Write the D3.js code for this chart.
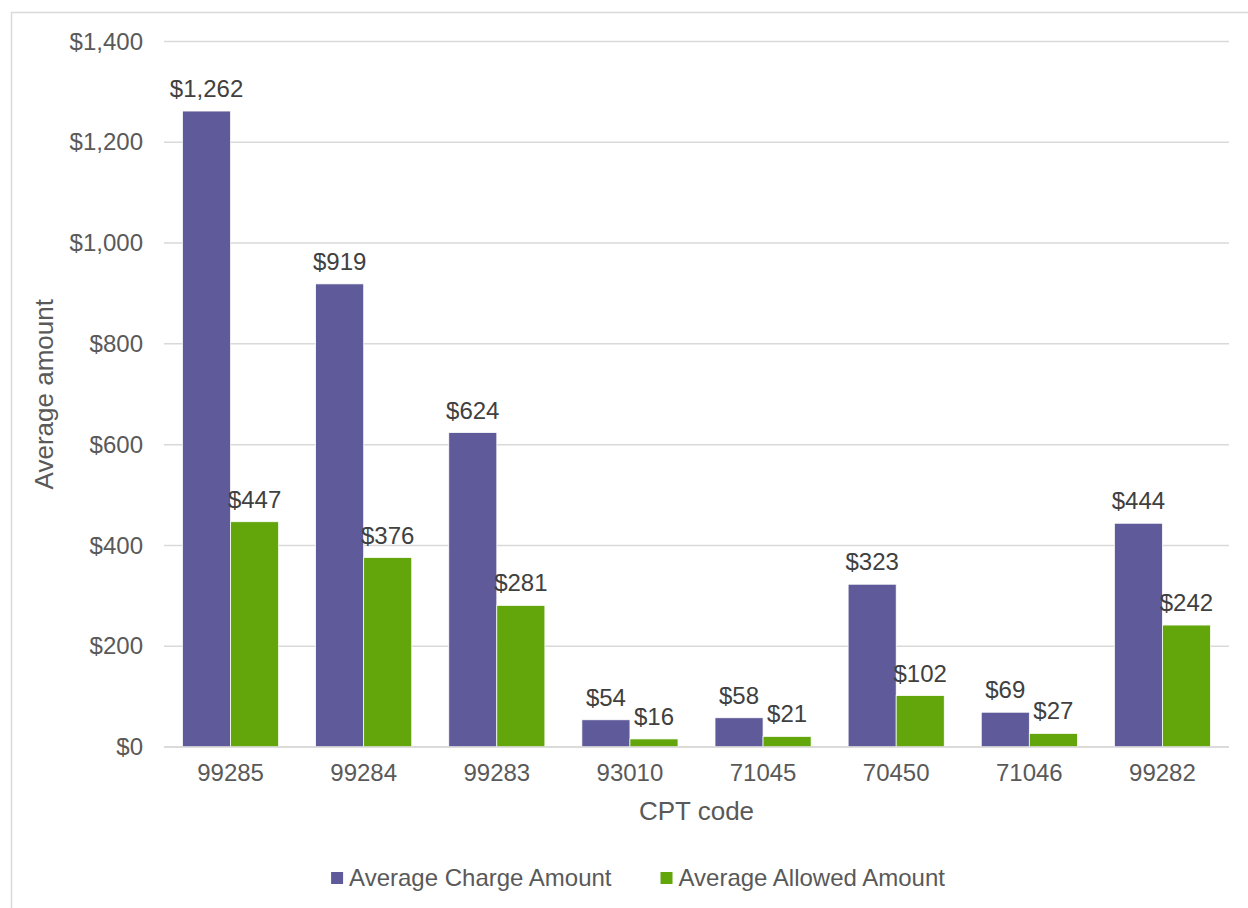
<!DOCTYPE html>
<html>
<head>
<meta charset="utf-8">
<script src="https://cdn.jsdelivr.net/npm/d3@7"></script>
<style>
  body { margin: 0; background: #fff; }
  text { font-family: "Liberation Sans", Arial, sans-serif; }
</style>
</head>
<body>
<div id="chart"></div>
<script>
// chart data
const codes = ['99285', '99284', '99283', '93010', '71045', '70450', '71046', '99282'];
const chargeAmounts = [1262, 919, 624, 54, 58, 323, 69, 444];
const allowedAmounts = [447, 376, 281, 16, 21, 102, 27, 242];
const seriesNames = ['Average Charge Amount', 'Average Allowed Amount'];
const yTicks = [0, 200, 400, 600, 800, 1000, 1200, 1400];

const width = 1248, height = 908;
const colors = ['#5f5b9a', '#62a60b'];

const svg = d3.select('#chart')
  .append('svg')
  .attr('width', width)
  .attr('height', height);

// outer chart frame (runs off the right and bottom edge)
svg.append('rect')
  .attr('x', 11.5)
  .attr('y', 12.5)
  .attr('width', 1300)
  .attr('height', 1000)
  .attr('fill', 'none')
  .attr('stroke', '#d9d9d9')
  .attr('stroke-width', 1.5);

const plotLeft = 164, plotRight = 1229, plotTop = 41.5, plotBottom = 747;

const xScale = d3.scaleBand()
  .domain(codes)
  .range([plotLeft, plotRight])
  .paddingInner(0.278)
  .paddingOuter(0.139);

const xSub = d3.scaleBand()
  .domain([0, 1])
  .range([0, xScale.bandwidth()]);

const yScale = d3.scaleLinear()
  .domain([0, 1400])
  .range([plotBottom, plotTop]);

// gridlines
svg.append('g')
  .selectAll('line')
  .data(yTicks)
  .join('line')
  .attr('x1', plotLeft)
  .attr('x2', plotRight)
  .attr('y1', d => yScale(d))
  .attr('y2', d => yScale(d))
  .attr('stroke', '#d9d9d9')
  .attr('stroke-width', 1.5);

// y axis labels
const yAxis = svg.append('g')
  .attr('transform', `translate(${plotLeft},0)`)
  .call(d3.axisLeft(yScale).tickValues(yTicks).tickSize(0).tickPadding(21)
    .tickFormat(d => '$' + d3.format(',')(d)));
yAxis.select('.domain').remove();
yAxis.selectAll('text')
  .attr('fill', '#595959')
  .style('font-size', '24px');

// x axis labels
const xAxis = svg.append('g')
  .attr('transform', `translate(0,${plotBottom})`)
  .call(d3.axisBottom(xScale).tickSize(0).tickPadding(17));
xAxis.select('.domain').remove();
xAxis.selectAll('text')
  .attr('fill', '#595959')
  .style('font-size', '24px');

// bars
const series = [chargeAmounts, allowedAmounts];
series.forEach((vals, si) => {
  const g = svg.append('g');
  g.selectAll('rect')
    .data(vals)
    .join('rect')
    .attr('x', (d, i) => xScale(codes[i]) + xSub(si))
    .attr('y', d => yScale(d))
    .attr('width', xSub.bandwidth())
    .attr('height', d => plotBottom - yScale(d))
    .attr('fill', colors[si])
    .attr('stroke', '#ffffff')
    .attr('stroke-width', 0.75);

  g.selectAll('text')
    .data(vals)
    .join('text')
    .attr('x', (d, i) => xScale(codes[i]) + xSub(si) + xSub.bandwidth() / 2)
    .attr('y', d => yScale(d) - 14)
    .attr('text-anchor', 'middle')
    .attr('fill', '#404040')
    .style('font-size', '24px')
    .text(d => '$' + d3.format(',')(d));
});

// baseline
svg.append('line')
  .attr('x1', plotLeft)
  .attr('x2', plotRight)
  .attr('y1', plotBottom)
  .attr('y2', plotBottom)
  .attr('stroke', '#d9d9d9')
  .attr('stroke-width', 1.5);

// axis titles
svg.append('text')
  .attr('x', (plotLeft + plotRight) / 2)
  .attr('y', 820)
  .attr('text-anchor', 'middle')
  .attr('fill', '#595959')
  .style('font-size', '26px')
  .text('CPT code');

svg.append('text')
  .attr('transform', `translate(53,${(plotTop + plotBottom) / 2}) rotate(-90)`)
  .attr('text-anchor', 'middle')
  .attr('fill', '#595959')
  .style('font-size', '26px')
  .text('Average amount');

// legend
const legend = svg.append('g');
let lx = 0;
seriesNames.forEach((name, i) => {
  const item = legend.append('g').attr('transform', `translate(${lx},0)`);
  item.append('rect')
    .attr('x', 0)
    .attr('y', -6)
    .attr('width', 12)
    .attr('height', 12)
    .attr('fill', colors[i]);
  const t = item.append('text')
    .attr('x', 18)
    .attr('y', 0)
    .attr('dy', '0.35em')
    .attr('fill', '#595959')
    .style('font-size', '24px')
    .text(name);
  lx += 18 + t.node().getComputedTextLength() + 49;
});
const legendWidth = lx - 49;
legend.attr('transform', `translate(${638 - legendWidth / 2},878)`);
</script>
</body>
</html>
